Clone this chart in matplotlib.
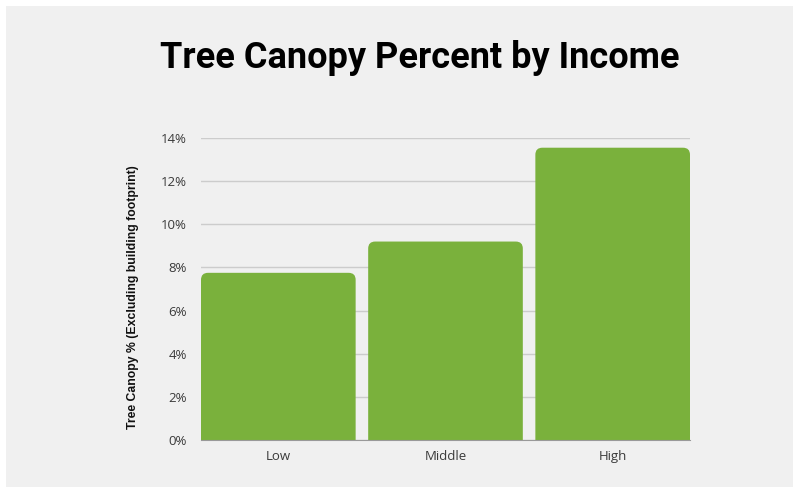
import matplotlib.pyplot as plt
import matplotlib
from matplotlib.patches import FancyBboxPatch, Rectangle
from matplotlib.ticker import FuncFormatter

matplotlib.rcParams['font.family'] = 'Open Sans'

categories = ['Low', 'Middle', 'High']
canopy_pct = [7.75, 9.2, 13.55]
y_ticks = [0, 2, 4, 6, 8, 10, 12, 14]

W, H = 793, 492
fig = plt.figure(figsize=(W / 100, H / 100), dpi=100)
fig.patch.set_facecolor('white')

# gray panel with thin white border
fig.patches.append(Rectangle((6 / W, 5 / H), (W - 6) / W, (H - 11) / H,
                             transform=fig.transFigure, facecolor='#f0f0f0',
                             edgecolor='none', zorder=-10))

ax = fig.add_axes([201 / W, (H - 440) / H, (690 - 201) / W, (440 - 138) / H])
ax.set_facecolor('none')

bar_w = 0.925
bars = ax.bar(range(len(categories)), canopy_pct, width=bar_w, color='#7ab13c')

# swap plain bars for rounded-top ones
px_per_x = (690 - 201) / (len(categories) - 1 + bar_w)
px_per_y = (440 - 138) / 14
for b in bars:
    b.set_visible(False)
    x0, h = b.get_x(), b.get_height()
    r = 7 / px_per_x
    p = FancyBboxPatch((x0, -1), bar_w, h + 1,
                       boxstyle=f'round,pad=0,rounding_size={r}',
                       mutation_aspect=px_per_x / px_per_y,
                       facecolor='#7ab13c', edgecolor='none', zorder=2)
    ax.add_patch(p)

ax.set_xlim(-bar_w / 2, len(categories) - 1 + bar_w / 2)
ax.set_ylim(0, 14)
ax.set_yticks(y_ticks)
ax.yaxis.set_major_formatter(FuncFormatter(lambda v, _: f'{v:.0f}%'))
ax.set_xticks(range(len(categories)))
ax.set_xticklabels(categories)
ax.tick_params(axis='both', length=0, labelsize=9.5, colors='#3a3a3a', pad=7)
ax.tick_params(axis='y', pad=10)

ax.grid(axis='y', color='#cccccc', linewidth=1, zorder=1)
ax.set_axisbelow(True)
for s in ['top', 'right', 'left']:
    ax.spines[s].set_visible(False)
ax.spines['bottom'].set_color('#999999')
ax.spines['bottom'].set_zorder(3)

ax.set_ylabel('Tree Canopy % (Excluding building footprint)', fontsize=8.8,
              fontweight='bold', family='Liberation Sans', color='#111111')
ax.yaxis.set_label_coords(-0.127, 0.472)

fig.text(419.5 / W, (H - 58) / H, 'Tree Canopy Percent by Income', ha='center', va='center',
         fontsize=26, fontweight='bold', family='Roboto', color='black')

plt.savefig('out.png', dpi=100, facecolor='white')
